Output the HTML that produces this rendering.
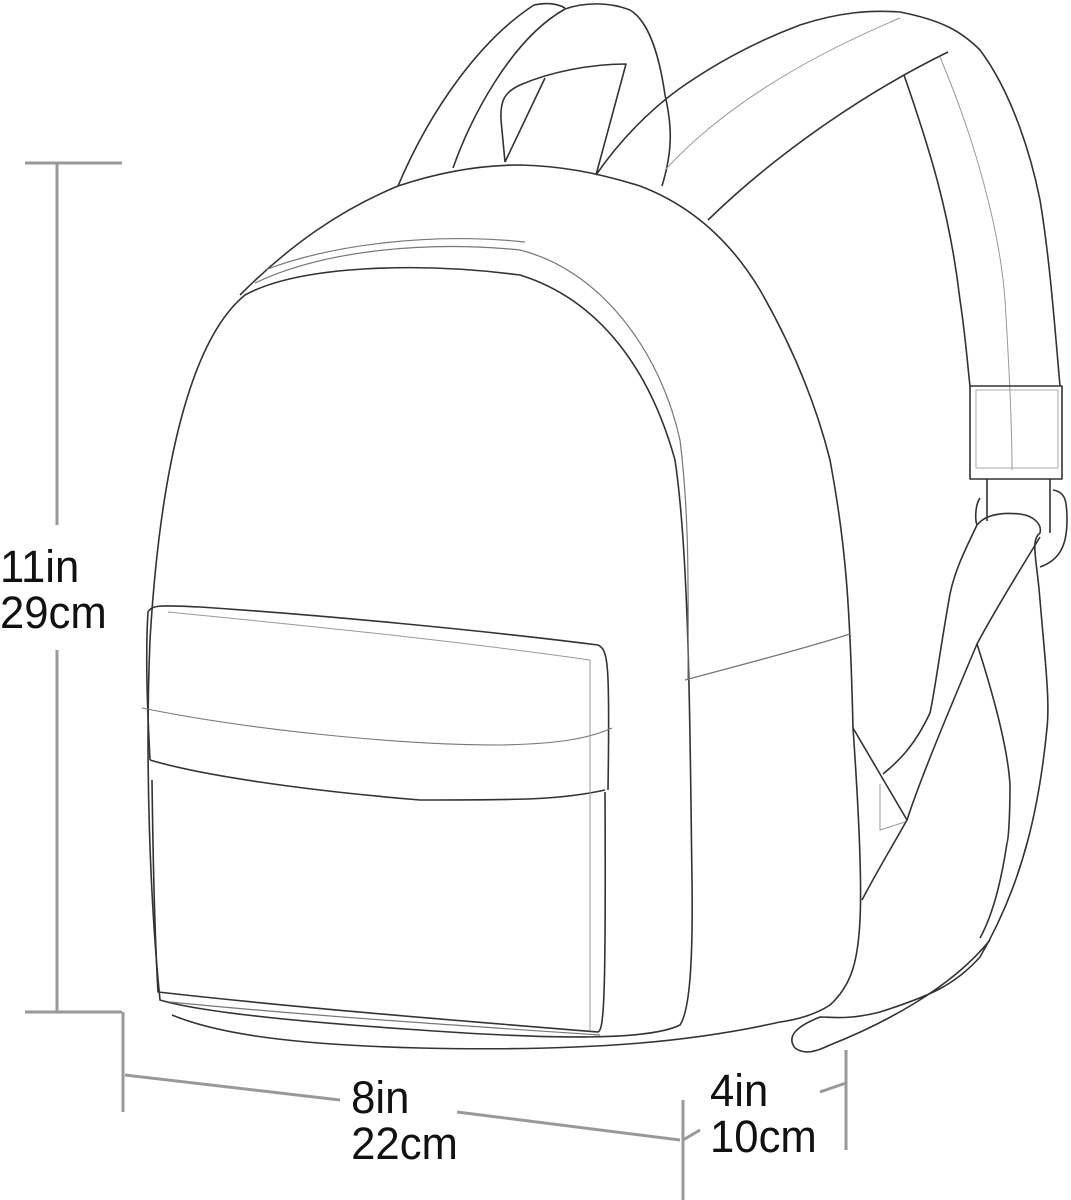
<!DOCTYPE html>
<html><head><meta charset="utf-8"><style>
html,body{margin:0;padding:0;background:#fff;}
svg{display:block}
text{font-family:"Liberation Sans",sans-serif;font-size:45px;fill:#111;}
</style></head><body>
<svg width="1071" height="1200" viewBox="0 0 1071 1200">
<g fill="none" stroke="#999" stroke-width="3">
<line x1="57" y1="163" x2="57" y2="525"/>
<line x1="57" y1="650" x2="57" y2="1012"/>
<line x1="25" y1="163" x2="122" y2="163"/>
<line x1="25" y1="1012" x2="122" y2="1012"/>
<line x1="123" y1="1012" x2="123" y2="1112"/>
<line x1="125" y1="1075" x2="340" y2="1100"/>
<line x1="457" y1="1112" x2="680" y2="1140"/>
<line x1="683" y1="1100" x2="683" y2="1200"/>
<line x1="683" y1="1140" x2="700" y2="1130"/>
<line x1="820" y1="1092" x2="846" y2="1083"/>
<line x1="846" y1="1050" x2="846" y2="1150"/>
</g>
<g transform="scale(0.97,1)">
<text x="0" y="582">11in</text>
<text x="0" y="628">29cm</text>
<text x="362" y="1113">8in</text>
<text x="362" y="1159">22cm</text>
<text x="732" y="1106">4in</text>
<text x="732" y="1152">10cm</text>
</g>
<g fill="none" stroke="#333" stroke-width="1.6" stroke-linejoin="round">
<path d="M398,186 C430,110 480,40 534,5 C548,2 558,4 565,8"/>
<path d="M453,168 C470,120 510,40 565,9"/>
<path d="M565,9 C585,2 610,2 630,10 C650,22 660,60 665,95 C672,125 673,150 662,186"/>
<path d="M505,162 L501,120 C500,100 505,92 520,85 C550,72 590,64 626,64 L596,175"/>
<path d="M545,78 L505,162"/>
<path d="M596,175 C620,140 650,110 679,89 C720,60 760,40 800,25 C840,12 870,10 900,12 C940,20 960,30 980,50 C1010,90 1030,150 1040,200 C1050,260 1055,330 1060,386"/>
<path d="M708,220 C780,150 870,90 948,52"/>
<path d="M904,75 C930,150 950,214 960,300 C966,340 968,370 970,386"/>
<path d="M900,18 C800,60 720,110 665,170" stroke="#999" stroke-width="1"/>
<path d="M940,57 C975,140 1000,230 1005,300 C1010,380 1012,430 1012,470" stroke="#999" stroke-width="1"/>
<path d="M970,386 L1062,386 L1062,479 L970,479 Z"/>
<path d="M976,390 L1058,390 L1058,468 L976,468 Z" stroke="#aaa" stroke-width="1"/>
<path d="M987,479 L987,521 M1050,479 L1050,533"/>
<path d="M980,498 C975,505 975,520 977,525"/>
<path d="M1053,490 C1065,492 1067,500 1067,520 C1067,545 1060,560 1040,567"/>
<path d="M977,525 C985,515 1000,512 1020,514 C1035,516 1042,525 1040,533 C1030,540 1037,560 1040,600 C1045,660 1050,700 1047,728 C1040,800 1025,880 980,957 C955,985 930,996 880,1012 C850,1020 830,1017 820,1017 C800,1025 785,1035 795,1048 C805,1055 815,1052 830,1045 C880,1025 950,990 990,940"/>
<path d="M977,525 C965,550 955,570 950,594 C940,650 935,690 930,713 C915,745 900,760 883,774"/>
<path d="M1040,537 C1020,570 995,610 977,644 C945,720 920,780 907,820 C890,850 875,875 862,900"/>
<path d="M977,644 C995,700 1008,750 1010,785 C1010,820 1008,843 1007,843 C1000,890 990,920 980,938"/>
<path d="M853,728 L907,820"/>
<path d="M880,784 L880,830 L905,822" stroke="#999" stroke-width="1"/>
<path d="M240,295 C290,245 340,210 398,186 C440,172 480,165 520,165 C560,166 595,172 640,186 C690,205 730,240 760,290 C800,360 820,420 830,460 C845,540 850,600 853,728 C858,800 862,880 860,920 C858,960 852,985 830,1005 C815,1015 795,1020 780,1022 C700,1040 600,1052 420,1048 C300,1045 220,1035 172,1015"/>
<path d="M160,1000 C150,900 145,760 150,640 C160,470 190,340 245,295 C300,265 420,262 520,275 C600,300 650,370 675,460 C690,560 690,750 692,880 C693,960 690,1010 680,1025 C650,1040 560,1040 420,1030 C300,1022 200,1012 160,1000 Z"/>
<path d="M255,283 C320,252 420,240 520,250 C600,270 660,350 680,440 C690,520 688,600 688,680" stroke="#777" stroke-width="1.2"/>
<path d="M265,270 C330,245 430,232 525,242" stroke="#777" stroke-width="1.2"/>
<path d="M685,680 C740,665 800,650 850,634" stroke="#777" stroke-width="1.3"/>
<path d="M150,760 C148,720 145,660 148,612 C152,605 160,605 200,607 C320,615 480,630 598,645 C608,650 610,660 608,790"/>
<path d="M150,760 C200,775 300,790 420,800 C520,800 560,800 605,790"/>
<path d="M142,708 C250,730 400,745 500,745 C560,744 590,738 612,728" stroke="#777" stroke-width="1.1"/>
<path d="M168,612 C300,625 450,640 590,660" stroke="#999" stroke-width="1"/>
<path d="M152,780 C153,860 155,940 158,992 C300,1008 450,1020 598,1032 C604,1030 606,1000 605,792"/>
<path d="M590,660 L590,1030" stroke="#999" stroke-width="1"/>
<path d="M170,1002 C300,1015 450,1025 600,1035" stroke="#777" stroke-width="1.2"/>
</g>
</svg>
</body></html>
